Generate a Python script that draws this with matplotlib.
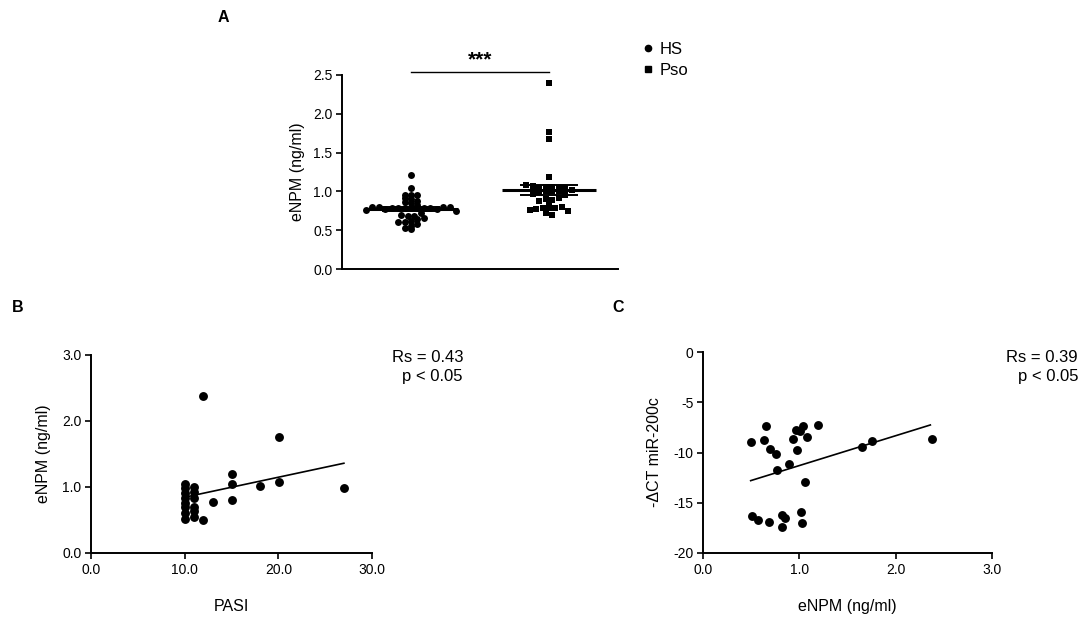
import numpy as np
import matplotlib
matplotlib.use("Agg")
import matplotlib.pyplot as plt
from matplotlib.lines import Line2D

plt.rcParams['font.family'] = ['Liberation Sans', 'DejaVu Sans']
plt.rcParams['axes.unicode_minus'] = False

# ---------------- data ----------------
groups = ["HS", "Pso"]
hs_values = [1.21, 1.04, 0.96, 0.95, 0.95, 0.92, 0.90, 0.88, 0.86, 0.85, 0.82,
             0.80, 0.80, 0.80, 0.80, 0.79, 0.79, 0.79, 0.78, 0.78, 0.78, 0.78,
             0.77, 0.77, 0.76, 0.75, 0.72, 0.70, 0.68, 0.68, 0.66, 0.64, 0.62,
             0.61, 0.60, 0.58, 0.55, 0.53, 0.52]
pso_values = [2.40, 1.76, 1.67, 1.19, 1.08, 1.07, 1.06, 1.06, 1.05, 1.05, 1.04,
              1.02, 1.01, 1.00, 1.00, 0.99, 0.97, 0.95, 0.92, 0.90, 0.89, 0.88,
              0.84, 0.80, 0.79, 0.78, 0.78, 0.77, 0.76, 0.75, 0.72, 0.70]
a_yticks = [0.0, 0.5, 1.0, 1.5, 2.0, 2.5]
a_signif = "***"

pasi = [10.0, 10.0, 10.0, 10.0, 10.0, 10.0, 10.0, 10.0,
        11.0, 11.0, 11.0, 11.0, 11.0, 11.0,
        12.0, 12.0, 13.0, 15.0, 15.0, 15.0, 18.0, 20.1, 20.1, 27.0]
enpm_b = [1.05, 0.98, 0.91, 0.83, 0.76, 0.69, 0.61, 0.51,
          1.00, 0.93, 0.84, 0.70, 0.64, 0.55,
          0.50, 2.38, 0.78, 1.20, 1.04, 0.81, 1.01, 1.76, 1.08, 0.98]
b_fit_x = [10.0, 27.0]
b_fit_y = [0.845, 1.36]
b_xticks = [0.0, 10.0, 20.0, 30.0]
b_yticks = [0.0, 1.0, 2.0, 3.0]
b_stats = "Rs = 0.43\np < 0.05"

enpm_c = [0.495, 0.63, 0.655, 0.70, 0.755, 0.77, 0.89, 0.93, 0.97, 0.98,
          1.035, 1.01, 1.08, 1.06, 1.19, 1.655, 1.755, 2.375,
          0.505, 0.575, 0.69, 0.82, 0.85, 0.82, 1.02, 1.025]
dct_c = [-9.0, -8.76, -7.36, -9.7, -10.15, -11.7, -11.15, -8.66, -7.76, -9.75,
         -7.36, -7.83, -8.43, -12.97, -7.26, -9.49, -8.83, -8.66,
         -16.3, -16.7, -16.9, -16.2, -16.5, -17.4, -15.95, -17.0]
c_fit_x = [0.495, 2.36]
c_fit_y = [-12.8, -7.26]
c_xticks = [0.0, 1.0, 2.0, 3.0]
c_yticks = [0, -5, -10, -15, -20]
c_stats = "Rs = 0.39\np < 0.05"

W, H = 1084, 617
fig = plt.figure(figsize=(W / 100, H / 100), dpi=100)


def px_axes(l, r, b, t):
    return fig.add_axes([l / W, 1 - b / H, (r - l) / W, (b - t) / H])


def style(ax):
    for s in ['top', 'right']:
        ax.spines[s].set_visible(False)
    for s in ['left', 'bottom']:
        ax.spines[s].set_linewidth(1.4)
        ax.spines[s].set_color('black')
    ax.tick_params(direction='out', length=4, width=1.2, labelsize=10, pad=3, colors='black')


def swarm_offsets(vals, bin_w, dx):
    """Row-wise dot-plot layout: points in one row spread symmetrically."""
    vals = np.asarray(vals)
    bins = np.round(vals / bin_w).astype(int)
    offs = np.zeros(len(vals))
    for b in np.unique(bins):
        idx = np.where(bins == b)[0]
        n = len(idx)
        slots = (np.arange(n) - (n - 1) / 2) * dx
        # fill slots from the centre outwards, alternating sides
        order_slots = slots[np.argsort(np.abs(slots) + 1e-6 * slots)]
        idx = idx[np.argsort(np.abs(vals[idx] - np.median(vals[idx])), kind='stable')]
        offs[idx] = order_slots
    return offs

# ---------------- panel A ----------------
axA = px_axes(342, 618, 269, 75)
style(axA)
axA.set_xlim(-0.5, 1.5)
axA.set_ylim(0, 2.5)
axA.set_yticks(a_yticks)
axA.set_yticklabels([f"{v:.1f}" for v in a_yticks])
axA.set_xticks([])
axA.set_ylabel("eNPM (ng/ml)", fontsize=11.5, labelpad=6)

for i, (vals, mk, ms) in enumerate([(hs_values, 'o', 5.0), (pso_values, 's', 4.6)]):
    offs = swarm_offsets(vals, 0.07, 0.047)
    axA.plot(i + offs, vals, linestyle='none', marker=mk, markersize=ms,
             color='black', markeredgewidth=0, clip_on=False, zorder=3)
    m = np.mean(vals)
    sem = np.std(vals, ddof=1) / np.sqrt(len(vals))
    axA.hlines(m, i - 0.34, i + 0.34, color='black', lw=2.2, zorder=4)
    axA.vlines(i, m - sem, m + sem, color='black', lw=1.4, zorder=4)
    axA.hlines([m - sem, m + sem], i - 0.21, i + 0.21, color='black', lw=1.4, zorder=4)

axA.plot([0, 1], [2.54, 2.54], color='black', lw=1.0, clip_on=False)
axA.text(0.5, 2.70, a_signif, ha='center', va='center', fontsize=15, fontweight='bold')

handles = [Line2D([], [], marker='o', ls='none', color='black', markersize=4.5, label=groups[0]),
           Line2D([], [], marker='s', ls='none', color='black', markersize=4.5, label=groups[1])]
fig.legend(handles=handles, loc='upper left', bbox_to_anchor=(643 / W, 1 - 42 / H),
           frameon=False, fontsize=12, handlelength=0.6, handletextpad=0.4,
           labelspacing=0.35, borderpad=0, borderaxespad=0)

# ---------------- panel B ----------------
axB = px_axes(91, 372, 553, 355)
style(axB)
axB.set_xlim(0, 30)
axB.set_ylim(0, 3)
axB.set_xticks(b_xticks)
axB.set_xticklabels([f"{v:.1f}" for v in b_xticks])
axB.set_yticks(b_yticks)
axB.set_yticklabels([f"{v:.1f}" for v in b_yticks])
axB.plot(pasi, enpm_b, 'o', color='black', markersize=6.4, markeredgewidth=0, zorder=3)
axB.plot(b_fit_x, b_fit_y, color='black', lw=1.2, zorder=2)
axB.set_xlabel("PASI", fontsize=11.5, labelpad=16)
axB.set_ylabel("eNPM (ng/ml)", fontsize=11.5, labelpad=8)
fig.text(463 / W, 1 - 350 / H, b_stats, ha='right', va='top', fontsize=12, linespacing=1.35,
         multialignment='right')

# ---------------- panel C ----------------
axC = px_axes(703, 992, 553, 352)
style(axC)
axC.set_xlim(0, 3)
axC.set_ylim(-20, 0)
axC.set_xticks(c_xticks)
axC.set_xticklabels([f"{v:.1f}" for v in c_xticks])
axC.set_yticks(c_yticks)
axC.set_yticklabels([str(v) for v in c_yticks])
axC.plot(enpm_c, dct_c, 'o', color='black', markersize=6.4, markeredgewidth=0, zorder=3)
axC.plot(c_fit_x, c_fit_y, color='black', lw=1.2, zorder=2)
axC.set_xlabel("eNPM (ng/ml)", fontsize=11.5, labelpad=16)
axC.set_ylabel("-\u0394CT miR-200c", fontsize=11.5, labelpad=8)
fig.text(1078 / W, 1 - 350 / H, c_stats, ha='right', va='top', fontsize=12, linespacing=1.35,
         multialignment='right')

# panel letters
fig.text(223 / W, 1 - 18 / H, "A", ha='center', va='center', fontsize=11.5, fontweight='bold')
fig.text(18 / W, 1 - 308 / H, "B", ha='center', va='center', fontsize=11.5, fontweight='bold')
fig.text(618 / W, 1 - 308 / H, "C", ha='center', va='center', fontsize=11.5, fontweight='bold')

fig.savefig("out.png", dpi=100, facecolor='white')
